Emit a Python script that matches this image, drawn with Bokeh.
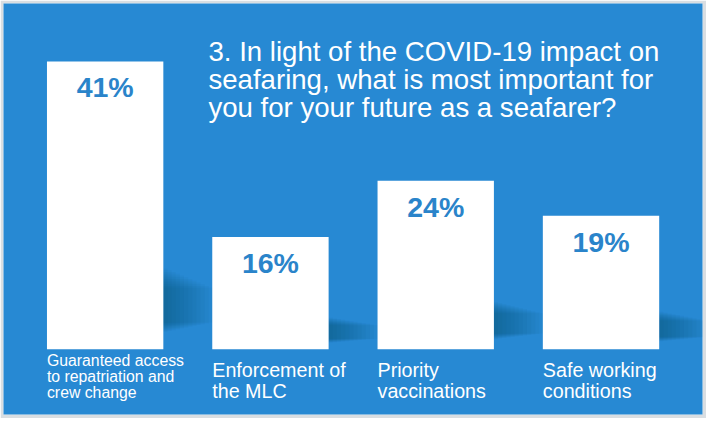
from bokeh.plotting import figure
from bokeh.models import ColumnDataSource, Range1d, Label
from bokeh.core.properties import value
from bokeh.embed import file_html
from bokeh.resources import INLINE

# ---- data ----
categories = [
    "Guaranteed access\nto repatriation and\ncrew change",
    "Enforcement of\nthe MLC",
    "Priority\nvaccinations",
    "Safe working\nconditions",
]
percentages = [41, 16, 24, 19]
pct_labels = ["41%", "16%", "24%", "19%"]
title_text = ("3. In light of the COVID-19 impact on\n"
              "seafaring, what is most important for\n"
              "you for your future as a seafarer?")

BLUE = "#2789D3"
PCT_BLUE = "#2A84CA"
FONT = "Liberation Sans"
BAR_W = 0.704

idx = list(range(len(categories)))
src = ColumnDataSource(dict(
    x=idx,
    top=percentages,
    pct=pct_labels,
    cat=categories,
    left=[i - BAR_W / 2 for i in idx],
    right=[i + BAR_W / 2 for i in idx],
    cat_size=["15.8px", "19.7px", "19.7px", "19.7px"],
    cat_off=[3.0, 10.0, 10.0, 10.0],
))

p = figure(width=706, height=418, output_backend="svg", toolbar_location=None,
           x_range=Range1d(-0.615, 3.614), y_range=Range1d(-9.3, 49.25),
           x_axis_location=None, y_axis_location=None,
           min_border_left=3, min_border_right=4, min_border_top=3, min_border_bottom=4,
           background_fill_color=BLUE, border_fill_color="#D9DEE2",
           outline_line_color=None)
p.xgrid.visible = False
p.ygrid.visible = False

# soft shadows to the right of each bar (many stacked translucent quads)
n_layers = 12
for k in range(n_layers):
    w = 0.025 + 0.025 * k
    p.quad(left=src.data["right"],
           right=[r + w for r in src.data["right"]],
           bottom=[v * (0.06 + 0.003 * k) for v in percentages],
           top=[v * (0.28 - 0.006 * k) for v in percentages],
           fill_color="#0A3A66", fill_alpha=0.045, line_color=None)

# bars
p.vbar(x="x", top="top", bottom=0, width=BAR_W, source=src,
       fill_color="white", line_color=None)

# percentage labels
p.text(x="x", y="top", text="pct", source=src, text_align="center",
       text_baseline="top", y_offset=10, text_color=PCT_BLUE,
       text_font=value(FONT), text_font_style="bold", text_font_size="28.5px")

# category labels
p.text(x="left", y=0, text="cat", source=src, text_align="left",
       text_baseline="top", y_offset="cat_off", text_color="white",
       text_font=value(FONT), text_font_size="cat_size", text_line_height=0.94)

# title
p.add_layout(Label(x=0.625, y=44.6, text=title_text, text_color="white",
                   text_font=FONT, text_font_size="27.6px", text_baseline="top",
                   text_align="left", text_line_height=0.9))

open("out.html", "w").write(file_html(p, INLINE))
